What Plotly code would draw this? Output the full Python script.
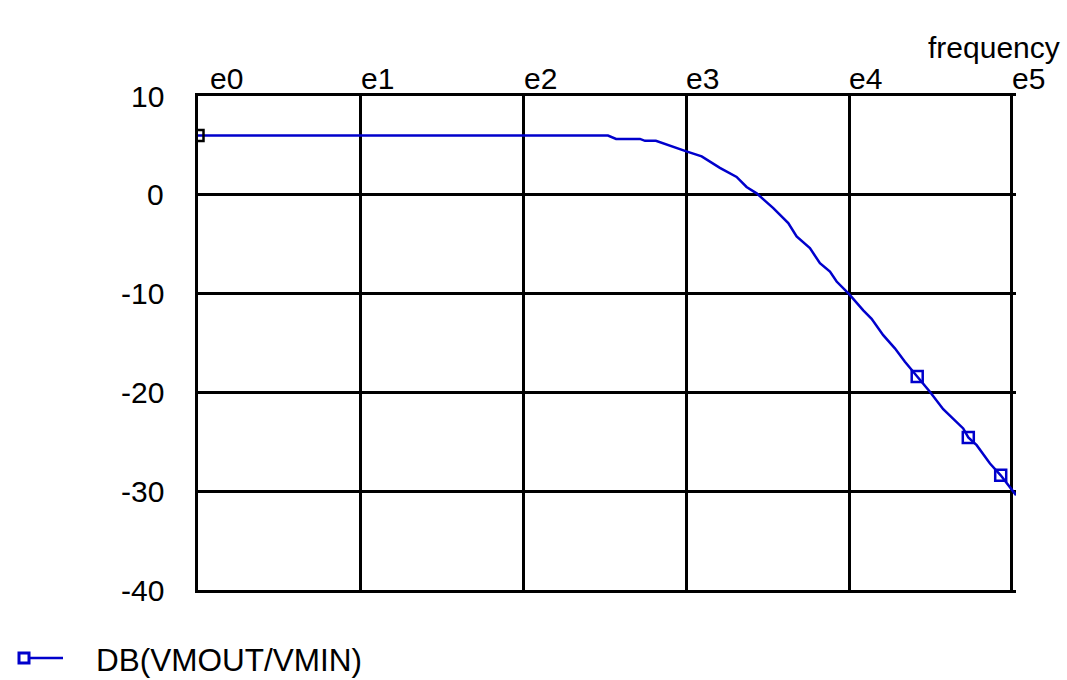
import plotly.graph_objects as go

# Frequency response of DB(VMOUT/VMIN): frequency in Hz, magnitude in dB
freq_hz = [1, 330, 370, 519, 557, 650, 1000, 1242, 1607, 2036, 2344, 2703,
           3420, 4227, 4757, 5741, 6616, 7622, 8377, 10000, 12210, 13740,
           16190, 19100, 22010, 26190, 31330, 37830, 50200, 53950, 60730,
           73310, 85310, 106000]
gain_db = [6.0, 6.0, 5.66, 5.66, 5.46, 5.46, 4.40, 3.89, 2.72, 1.81, 0.79,
           0.15, -1.34, -2.86, -4.22, -5.40, -6.92, -7.77, -8.78, -10.05,
           -11.70, -12.55, -14.20, -15.54, -16.90, -18.40, -19.94, -21.70,
           -23.65, -24.56, -25.34, -27.20, -28.39, -30.40]

# Trace symbol positions
marker_hz = [1, 26190, 53950, 85310]
marker_db = [6.0, -18.40, -24.56, -28.39]

x_tick_exp = [0, 1, 2, 3, 4, 5]
x_tick_text = ["e0", "e1", "e2", "e3", "e4", "e5"]
y_tick_vals = [10, 0, -10, -20, -30, -40]
y_tick_text = ["10", "0", "-10", "-20", "-30", "-40"]

trace_name = "DB(VMOUT/VMIN)"
x_title = "frequency"

BLUE = "#0000cc"
FONT = "Liberation Sans, Arial, sans-serif"

# plot area in pixels
W, H = 1067, 680
ML, MR, MT, MB = 198, 51, 96, 90
pw, ph = W - ML - MR, H - MT - MB


def px(xp):
    return (xp - ML) / pw


def py(yp):
    return (H - MB - yp) / ph


fig = go.Figure()
fig.add_trace(go.Scatter(x=freq_hz, y=gain_db, mode="lines",
                         line=dict(color=BLUE, width=2.5),
                         showlegend=False, hoverinfo="skip"))
fig.add_trace(go.Scatter(x=marker_hz, y=marker_db, mode="markers",
                         marker=dict(symbol="square-open", size=11,
                                     color=["black", BLUE, BLUE, BLUE],
                                     line=dict(width=2.5)),
                         showlegend=False, hoverinfo="skip"))

annotations = []
for e, t in zip(x_tick_exp, x_tick_text):
    annotations.append(dict(x=e, y=1, xref="x", yref="paper", text=t,
                            showarrow=False, xanchor="left", yanchor="bottom",
                            xshift=(11 if e == 0 else -1), yshift=0,
                            borderpad=0,
                            font=dict(family=FONT, size=30, color="black")))
for v, t in zip(y_tick_vals, y_tick_text):
    annotations.append(dict(x=0, y=v, xref="paper", yref="y", text=t,
                            showarrow=False, xanchor="right", yanchor="middle",
                            xshift=-32,
                            font=dict(family=FONT, size=30, color="black")))
annotations.append(dict(x=1, y=1, xref="paper", yref="paper", text=x_title,
                        showarrow=False, xanchor="right", yanchor="bottom",
                        xshift=45, yshift=31.5, borderpad=0,
                        font=dict(family=FONT, size=30, color="black")))
annotations.append(dict(x=px(94), y=py(660), xref="paper", yref="paper",
                        text=trace_name, showarrow=False,
                        xanchor="left", yanchor="middle",
                        font=dict(family=FONT, size=31.5, color="black")))

fig.update_layout(
    width=W, height=H,
    margin=dict(l=ML, r=MR, t=MT, b=MB),
    paper_bgcolor="white", plot_bgcolor="white",
    showlegend=False,
    annotations=annotations,
)

# legend glyph: short line with a square symbol at its left end
fig.add_shape(type="line", xref="paper", yref="paper",
              x0=px(28), x1=px(63), y0=py(658), y1=py(658),
              line=dict(color=BLUE, width=2.5))
fig.add_shape(type="rect", xref="paper", yref="paper",
              x0=px(19), x1=px(29), y0=py(653), y1=py(663),
              line=dict(color=BLUE, width=3), fillcolor="white")

fig.update_xaxes(type="log", range=[0, 5.025],
                 tickvals=[10 ** e for e in x_tick_exp], showticklabels=False,
                 showgrid=True, gridcolor="black", gridwidth=3,
                 showline=True, linecolor="black", linewidth=3, mirror=True,
                 ticks="", zeroline=False)
fig.update_yaxes(range=[-40, 10], tickvals=y_tick_vals, showticklabels=False,
                 showgrid=True, gridcolor="black", gridwidth=3,
                 showline=True, linecolor="black", linewidth=3, mirror=False,
                 ticks="", zeroline=False)

fig.write_html("out.html")
